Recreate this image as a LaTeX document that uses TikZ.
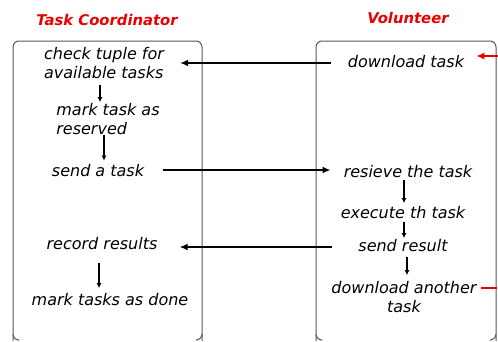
\documentclass[tikz,border=0pt]{standalone}
\usepackage{fontspec}
\setmainfont{DejaVu Sans}
\usetikzlibrary{arrows.meta}
\definecolor{tred}{RGB}{235,0,0}
\tikzset{
  title/.style={text=tred,font=\fontsize{14.8}{17}\selectfont\bfseries\itshape,inner sep=0pt},
  lbl/.style={font=\fontsize{16}{19}\selectfont\itshape,inner sep=1pt},
  panel/.style={draw=black!65,line width=1pt,rounded corners=6pt},
  varrow/.style={line width=1.6pt,-{Latex[length=5pt,width=5pt]}},
  harrow/.style={line width=1.8pt,-{Latex[length=8pt,width=7pt]}},
  rarrow/.style={line width=1.8pt,draw=tred,-{Latex[length=8pt,width=7pt]}},
  rline/.style={line width=1.8pt,draw=tred},
}
\begin{document}
\begin{tikzpicture}[x=1pt,y=-1pt]
\useasboundingbox[fill=white] (0,0) rectangle (498,341);
% panels
\draw[panel] (13,345) -- (13,41) -- (202,41) -- (202,345);
\draw[panel] (316,345) -- (316,41) -- (496,41) -- (496,345);
\draw[draw=white,line width=6pt] (0,344) -- (498,344);
\draw[panel] (13,334) -- (13,340) -- (18,340);
\draw[panel] (202,334) -- (202,340) -- (197,340);
\draw[panel] (316,334) -- (316,340) -- (321,340);
\draw[panel] (496,334) -- (496,340) -- (491,340);
% titles
\node[title] (t1) at (107,20) {Task Coordinator};
\node[title] (t2) at (408,18) {Volunteer};
% left column
\node[lbl,align=left] (n1) at (104,63) {check tuple for\\available tasks};
\node[lbl,align=left] (n2) at (108,119) {mark task as\\reserved};
\node[lbl] (n3) at (98,171) {send a task};
\node[lbl] (n4) at (102,244) {record results};
\node[lbl] (n5) at (110,300) {mark tasks as done};
% right column
\node[lbl] (m1) at (406,62) {download task};
\node[lbl] (m2) at (408,172) {resieve the task};
\node[lbl] (m3) at (403,213) {execute th task};
\node[lbl] (m4) at (403,246) {send result};
\node[lbl,align=center] (m5) at (404,297) {download another\\task};
% vertical arrows
\draw[varrow,line width=1.3pt,shorten <=5pt,shorten >=0pt] ([xshift=-4pt]n1.south) -- ([xshift=-4pt]n1.south |- n2.north);
\draw[varrow,line width=2pt,shorten <=-1pt,shorten >=3pt] ([xshift=-4pt]n2.south) -- ([xshift=-4pt]n2.south |- n3.north);
\draw[varrow,shorten <=12pt,shorten >=4.5pt] ([xshift=-3pt]n4.south) -- ([xshift=-3pt]n4.south |- n5.north);
\draw[varrow,shorten <=0.5pt,shorten >=2.5pt] ([xshift=-4pt]m2.south) -- ([xshift=-4pt]m2.south |- m3.north);
\draw[varrow,shorten <=1.5pt,shorten >=0.5pt] ([xshift=1pt]m3.south) -- ([xshift=1pt]m3.south |- m4.north);
\draw[varrow,line width=1.3pt,shorten <=3.5pt,shorten >=5pt] ([xshift=4pt]m4.south) -- ([xshift=4pt]m4.south |- m5.north);
% horizontal arrows
\draw[harrow] ([xshift=-16pt,yshift=-1pt]m1.west) -- ([xshift=15pt,yshift=-1pt]n1.east |- m1.west);
\draw[harrow] ([xshift=18pt,yshift=1pt]n3.east) -- ([xshift=-12pt,yshift=1pt]m2.west |- n3.east);
\draw[harrow] ([xshift=-25pt,yshift=-1pt]m4.west) -- ([xshift=21pt,yshift=-1pt]n4.east |- m4.west);
% red loop ends
\coordinate (r1) at (498,56);
\coordinate (r2) at (497,288);
\draw[rarrow] (r1) -- ([xshift=11pt]m1.east |- r1);
\draw[rline] ([xshift=3.5pt]m5.east |- r2) -- (r2);
\end{tikzpicture}
\end{document}
